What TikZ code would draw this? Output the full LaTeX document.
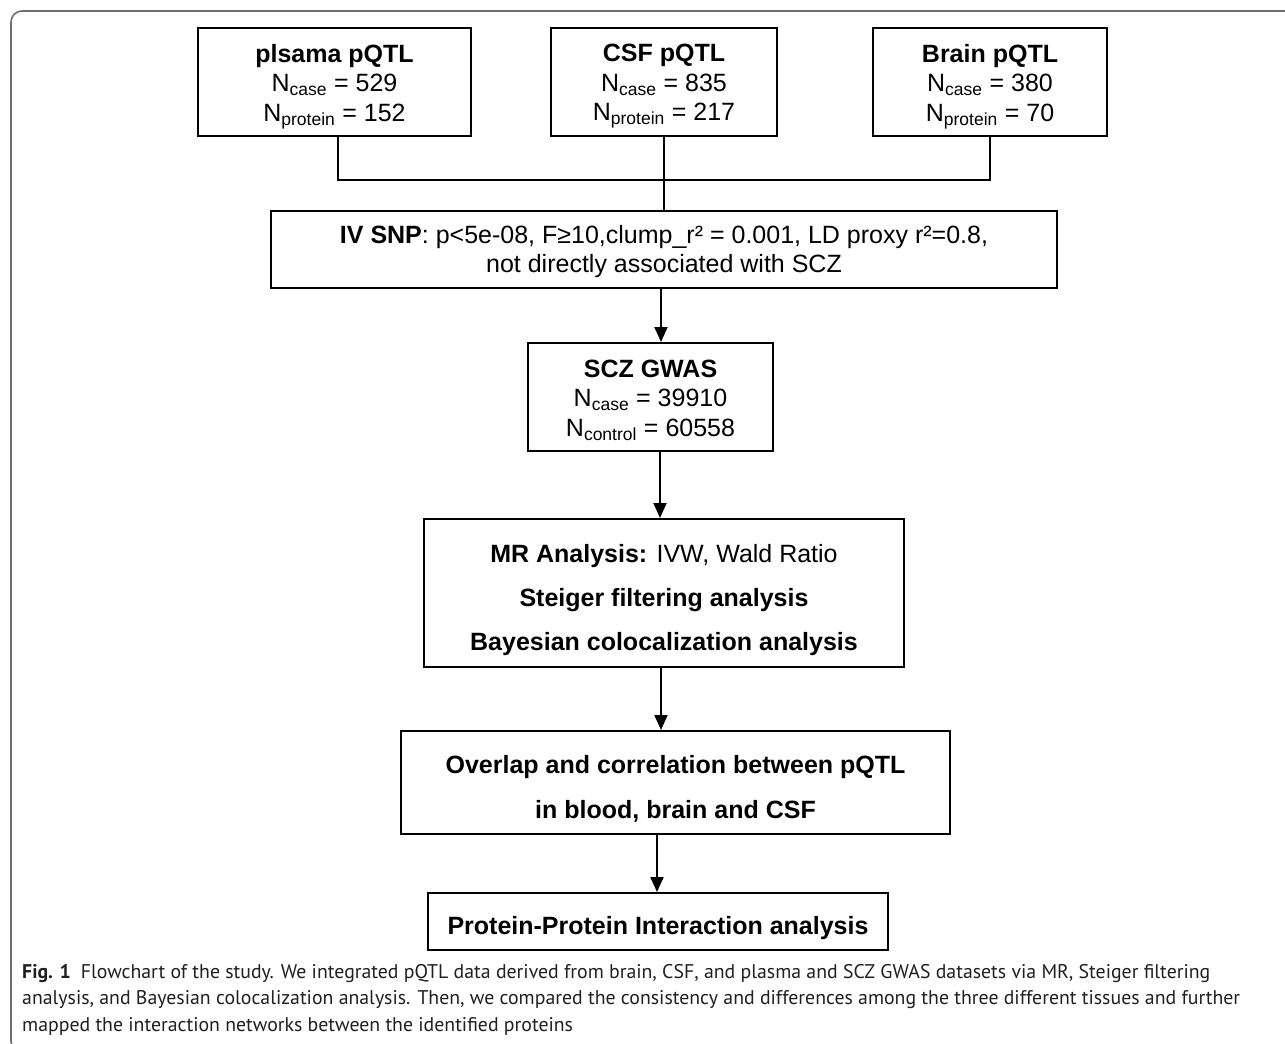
\documentclass[tikz,border=0pt]{standalone}
\usepackage{fontspec}
\setmainfont{Liberation Sans}
\newfontfamily\capfont{PT Sans}
\usetikzlibrary{arrows.meta}
\definecolor{framegray}{HTML}{6E6E6E}
\definecolor{captext}{HTML}{231F20}
\begin{document}
\begin{tikzpicture}[x=1pt,y=-1pt,
  box/.style={draw=black,line width=2pt,inner sep=0pt},
  boxtext/.style={inner sep=0pt,align=center,
    font=\fontsize{25}{29.5}\selectfont,text=black},
  conn/.style={draw=black,line width=2pt},
  arr/.style={draw=black,line width=2pt,-{Triangle[length=15pt,width=13pt]}},
  frame/.style={draw=framegray,line width=1.6pt,rounded corners=11pt}
]
\useasboundingbox (0,0) rectangle (1285,1044);
\clip (0,0) rectangle (1285,1044);
\fill[white] (0,0) rectangle (1285,1044);
\draw[frame] (60,1052) -- (11,1052) -- (11,11) -- (1300,11);

% top row
\node[box,minimum width=273pt,minimum height=108pt] (pl) at (334.5,82) {};
\node[boxtext] (plt) at ([yshift=-4.5pt]pl.center)
  {\textbf{plsama pQTL}\\N\textsubscript{case} = 529\\N\textsubscript{protein} = 152};
\node[box,minimum width=226pt,minimum height=108pt] (csf) at (664,82) {};
\node[boxtext] (csft) at ([yshift=-4.5pt]csf.center)
  {\textbf{CSF pQTL}\\N\textsubscript{case} = 835\\N\textsubscript{protein} = 217};
\node[box,minimum width=234pt,minimum height=108pt] (br) at (990,82) {};
\node[boxtext] (brt) at ([yshift=-4.5pt]br.center)
  {\textbf{Brain pQTL}\\N\textsubscript{case} = 380\\N\textsubscript{protein} = 70};

\node[box,minimum width=786pt,minimum height=77pt] (iv) at (664,249.5) {};
\node[boxtext] (ivt) at ([yshift=-2pt]iv.center)
  {\textbf{IV SNP}: p<5e-08, F≥10,clump\_r² = 0.001, LD proxy r²=0.8,\\not directly associated with SCZ};

\node[box,minimum width=245pt,minimum height=108pt] (scz) at (650.5,397) {};
\node[boxtext] (sczt) at ([yshift=-3pt]scz.center)
  {\textbf{SCZ GWAS}\\N\textsubscript{case} = 39910\\N\textsubscript{control} = 60558};

\node[box,minimum width=480pt,minimum height=148pt] (mr) at (664,593) {};
\node[boxtext,font=\fontsize{25}{44}\selectfont] (mrt) at ([yshift=-7pt]mr.center)
  {\textbf{MR Analysis:} IVW, Wald Ratio\\\textbf{Steiger filtering analysis}\\\textbf{Bayesian colocalization analysis}};

\node[box,minimum width=549pt,minimum height=103pt] (ov) at (675.5,782.5) {};
\node[boxtext,font=\fontsize{25}{45}\selectfont] (ovt) at ([yshift=-6.5pt]ov.center)
  {\textbf{Overlap and correlation between pQTL}\\\textbf{in blood, brain and CSF}};

\node[box,minimum width=460pt,minimum height=57pt] (ppi) at (658,921.5) {};
\node[boxtext] (ppit) at ([yshift=-7pt]ppi.center)
  {\textbf{Protein-Protein Interaction analysis}};

% connectors
\coordinate (jn) at (664,180);
\draw[conn] ([xshift=3.5pt]pl.south) |- (jn) -| (br.south);
\draw[conn] (csf.south) -- (iv.north);

\coordinate (a1) at ([xshift=-3pt]iv.south);
\draw[arr] (a1) -- (a1 |- scz.north);
\coordinate (a2) at ([xshift=9.5pt]scz.south);
\draw[arr] (a2) -- (a2 |- mr.north);
\coordinate (a3) at ([xshift=-3pt]mr.south);
\draw[arr] (a3) -- (a3 |- ov.north);
\coordinate (a4) at ([xshift=-18.5pt]ov.south);
\draw[arr] (a4) -- (a4 |- ppi.north);

% caption
\node[anchor=north west,align=left,inner sep=0pt,text=captext,
  font=\capfont\fontsize{19.8}{26.5}\selectfont] (cap) at (22,964)
  {\textbf{Fig. 1}\enspace Flowchart of the study. We integrated pQTL data derived from brain, CSF, and plasma and SCZ GWAS datasets via MR, Steiger filtering\\
   analysis, and Bayesian colocalization analysis. Then, we compared the consistency and differences among the three different tissues and further\\
   mapped the interaction networks between the identified proteins};
\end{tikzpicture}
\end{document}
